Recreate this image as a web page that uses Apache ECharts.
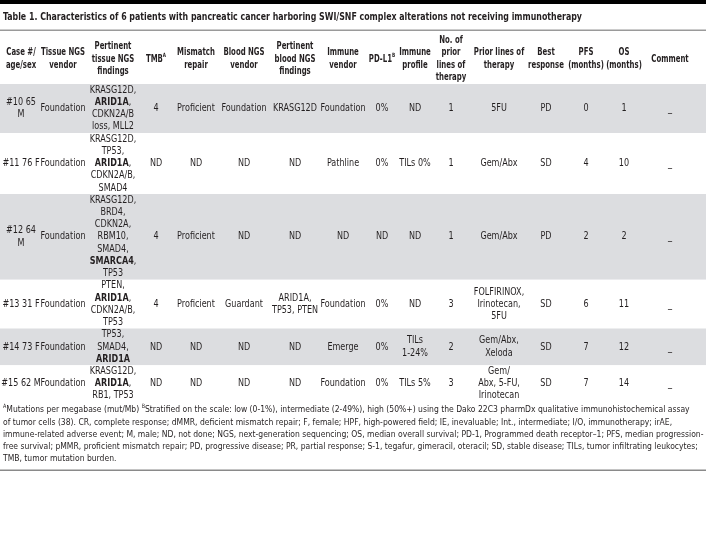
<!DOCTYPE html>
<html><head><meta charset="utf-8">
<script src="https://cdn.jsdelivr.net/npm/echarts@6/dist/echarts.min.js"></script>
<style>html,body{margin:0;padding:0;background:#fff}#c{width:706px;height:537px}</style>
</head><body><div id="c"></div>
<script>
// ---------- data ----------
const title = "Table 1. Characteristics of 6 patients with pancreatic cancer harboring SWI/SNF complex alterations not receiving immunotherapy";
const headers = ["Case #/\nage/sex", "Tissue NGS\nvendor", "Pertinent\ntissue NGS\nfindings", "TMB^A^", "Mismatch\nrepair", "Blood NGS\nvendor", "Pertinent\nblood NGS\nfindings", "Immune\nvendor", "PD-L1^B^", "Immune\nprofile", "No. of\nprior\nlines of\ntherapy", "Prior lines of\ntherapy", "Best\nresponse", "PFS\n(months)", "OS\n(months)", "Comment"];
const case10 = ["#10 65\nM", "Foundation", "KRASG12D,\n**ARID1A**,\nCDKN2A/B\nloss, MLL2", "4", "Proficient", "Foundation", "KRASG12D", "Foundation", "0%", "ND", "1", "5FU", "PD", "0", "1", "_"];
const case11 = ["#11 76 F", "Foundation", "KRASG12D,\nTP53,\n**ARID1A**,\nCDKN2A/B,\nSMAD4", "ND", "ND", "ND", "ND", "Pathline", "0%", "TILs 0%", "1", "Gem/Abx", "SD", "4", "10", "_"];
const case12 = ["#12 64\nM", "Foundation", "KRASG12D,\nBRD4,\nCDKN2A,\nRBM10,\nSMAD4,\n**SMARCA4**,\nTP53", "4", "Proficient", "ND", "ND", "ND", "ND", "ND", "1", "Gem/Abx", "PD", "2", "2", "_"];
const case13 = ["#13 31 F", "Foundation", "PTEN,\n**ARID1A**,\nCDKN2A/B,\nTP53", "4", "Proficient", "Guardant", "ARID1A,\nTP53, PTEN", "Foundation", "0%", "ND", "3", "FOLFIRINOX,\nIrinotecan,\n5FU", "SD", "6", "11", "_"];
const case14 = ["#14 73 F", "Foundation", "TP53,\nSMAD4,\n**ARID1A**", "ND", "ND", "ND", "ND", "Emerge", "0%", "TILs\n1-24%", "2", "Gem/Abx,\nXeloda", "SD", "7", "12", "_"];
const case15 = ["#15 62 M", "Foundation", "KRASG12D,\n**ARID1A**,\nRB1, TP53", "ND", "ND", "ND", "ND", "Foundation", "0%", "TILs 5%", "3", "Gem/\nAbx, 5-FU,\nIrinotecan", "SD", "7", "14", "_"];
const footnotes = [
  "^A^Mutations per megabase (mut/Mb) ^B^Stratified on the scale: low (0-1%), intermediate (2-49%), high (50%+) using the Dako 22C3 pharmDx qualitative immunohistochemical assay",
  "of tumor cells (38). CR, complete response; dMMR, deficient mismatch repair; F, female; HPF, high-powered field; IE, inevaluable; Int., intermediate; I/O, immunotherapy; irAE,",
  "immune-related adverse event; M, male; ND, not done; NGS, next-generation sequencing; OS, median overall survival; PD-1, Programmed death receptor\u20131; PFS, median progression-",
  "free survival; pMMR, proficient mismatch repair; PD, progressive disease; PR, partial response; S-1, tegafur, gimeracil, oteracil; SD, stable disease; TILs, tumor infiltrating leukocytes;",
  "TMB, tumor mutation burden."
];
const rows = [case10, case11, case12, case13, case14, case15];

// ---------- layout / style ----------
const W = 706, H = 537;
const COL_X = [21, 63, 113, 156, 196, 244, 295, 343, 382, 415, 451, 499, 546, 586, 624, 670];
const HEADER_Y = 59, BODY_TOP = 84, LINE_H = 12.23;
const FOOT_Y = 410, FOOT_LH = 12.2;
const INK = '#231f20', SHADE = '#dcdde0';
const FS = 10, TITLE_FS = 11, FOOT_FS = 9.5;

const ctx = document.createElement('canvas').getContext('2d');
function avail(f) {
  const s = 'abcdefghijklmnopqrstuvwxyzWMi0123';
  for (const base of ['monospace', 'serif']) {
    ctx.font = '20px ' + base; const a = ctx.measureText(s).width;
    ctx.font = '20px "' + f + '", ' + base; const b = ctx.measureText(s).width;
    if (a !== b) return true;
  }
  return false;
}
const FONT = ['Liberation Sans Narrow', 'Arial Narrow', 'DejaVu Sans Condensed', 'Roboto', 'Liberation Sans'].find(avail) || 'sans-serif';
function measure(t, weight, size) { ctx.font = weight + ' ' + size + 'px "' + FONT + '"'; return ctx.measureText(t).width; }
const plain = t => t.replace(/\*\*/g, '').replace(/\^.+?\^/g, '');
const S_CELL = 45 / measure('Foundation', 'normal', FS);
const S_HEAD = 44 / measure('Tissue NGS', 'bold', FS);
const S_TITLE = 579 / measure(title, 'bold', TITLE_FS);
const S_FOOT = 680 / measure(plain(footnotes[0]), 'normal', FOOT_FS);

const toRich = t => t.replace(/\*\*(.+?)\*\*/g, '{b|$1}').replace(/\^(.+?)\^/g, '{sup|$1}');
function richStyles(size, weight) {
  return {
    b: { fontFamily: FONT, fontSize: size, fontWeight: 'bold', color: INK, lineHeight: LINE_H, align: 'center' },
    sup: { fontFamily: FONT, fontSize: size * 0.6, fontWeight: weight, color: INK, lineHeight: LINE_H, verticalAlign: 'top', align: 'center' }
  };
}

// row geometry from the number of text lines in each row
const rowLines = rows.map(r => Math.max(...r.map(c => c.split('\n').length)));
const rowTop = [];
rowLines.reduce((acc, n, i) => { rowTop[i] = acc; return acc + n * LINE_H; }, BODY_TOP);

// cells: header row is -1
const cellData = [], cellText = [];
headers.forEach((t, c) => { cellData.push([c, -1]); cellText.push(t); });
rows.forEach((r, ri) => r.forEach((t, c) => { cellData.push([c, ri]); cellText.push(t); }));

const chart = echarts.init(document.getElementById('c'), null, { renderer: 'canvas' });
chart.setOption({
  animation: false,
  backgroundColor: '#fff',
  grid: { left: 0, right: 0, top: 0, bottom: 0 },
  xAxis: { type: 'value', min: 0, max: W, show: false },
  yAxis: { type: 'value', min: 0, max: H, inverse: true, show: false },
  graphic: [
    { type: 'rect', shape: { x: 0, y: 0, width: W, height: 4 }, style: { fill: '#000' }, z: 10 },
    { type: 'rect', shape: { x: 0, y: 29.5, width: W, height: 1.5 }, style: { fill: '#9a9a9a' }, z: 10 },
    { type: 'rect', shape: { x: 0, y: 469.5, width: W, height: 1.5 }, style: { fill: '#8a8a8a' }, z: 10 },
    { type: 'text', x: 3, y: 17, scaleX: S_TITLE, z: 10,
      style: { text: title, fontFamily: FONT, fontSize: TITLE_FS, fontWeight: 'bold', fill: INK, verticalAlign: 'middle', align: 'left' } },
    ...footnotes.map((t, i) => ({
      type: 'text', x: 3, y: FOOT_Y + i * FOOT_LH, scaleX: S_FOOT, z: 10,
      style: { text: toRich(t), fontFamily: FONT, fontSize: FOOT_FS, fill: INK, verticalAlign: 'middle', align: 'left',
        rich: { sup: { fontFamily: FONT, fontSize: 6, fill: INK, color: INK, verticalAlign: 'top', lineHeight: FOOT_LH } } }
    }))
  ],
  series: [
    {
      type: 'custom', silent: true, clip: false, z: 1,
      data: rows.map((r, i) => [i]),
      renderItem: (params, api) => {
        const i = api.value(0);
        const p0 = api.coord([0, rowTop[i]]);
        const p1 = api.coord([W, rowTop[i] + rowLines[i] * LINE_H]);
        return { type: 'rect', shape: { x: p0[0], y: p0[1], width: p1[0] - p0[0], height: p1[1] - p0[1] },
          style: { fill: i % 2 === 0 ? SHADE : '#fff' } };
      }
    },
    {
      type: 'custom', silent: true, clip: false, z: 2,
      data: cellData,
      renderItem: (params, api) => {
        const c = api.value(0), r = api.value(1);
        const header = r < 0;
        const yMid = header ? HEADER_Y : rowTop[r] + rowLines[r] * LINE_H / 2;
        const p = api.coord([COL_X[c], yMid]);
        const weight = header ? 'bold' : 'normal';
        return {
          type: 'text', x: p[0], y: p[1], scaleX: header ? S_HEAD : S_CELL,
          style: { text: toRich(cellText[params.dataIndex]), fontFamily: FONT, fontSize: FS, fontWeight: weight,
            fill: INK, align: 'center', verticalAlign: 'middle', lineHeight: LINE_H,
            rich: Object.assign({ '': {} }, richStyles(FS, weight)) }
        };
      }
    }
  ]
});
</script></body></html>
